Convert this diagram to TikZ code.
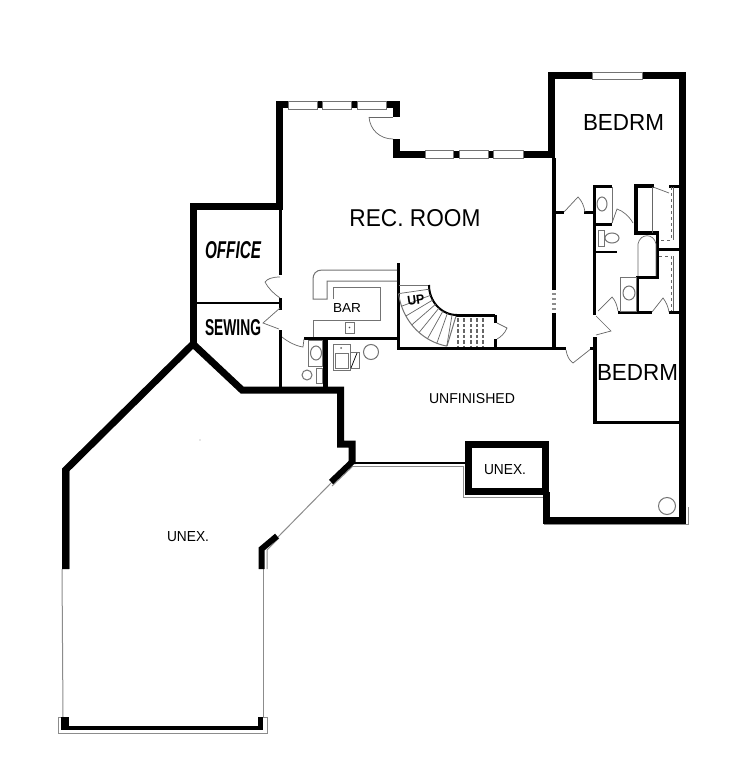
\documentclass[tikz,border=0pt]{standalone}
\usepackage{graphicx}
\usepackage{fontspec}
\setmainfont{Liberation Sans}
\tikzset{
 wall/.style={line width=#1,draw=black,line join=miter,line cap=butt},
 wall/.default=7pt,
 fine/.style={draw=black!45,line width=1pt},
 finer/.style={draw=black!60,line width=0.7pt},
 glass/.style={draw=black!55,fill=white,line width=0.9pt},
 fix/.style={draw=black!55,line width=1pt},
 lab/.style={inner sep=0pt,outer sep=0pt,anchor=center,text=black}
}
\newcommand{\fitlab}[3]{\resizebox{#1pt}{#2pt}{#3}}
\begin{document}
\begin{tikzpicture}[x=1pt,y=-1pt]
\useasboundingbox (0,0) rectangle (750,776);
\fill[white] (0,0) rectangle (750,776);

% grey outer lines
\draw[fine] (352,466) -- (463,466) -- (463,497) -- (544,497) -- (544,524) -- (688,524) -- (688,507);
\draw[fine] (353,466) -- (332,486);
\draw[fine] (278,537) -- (331,483);
\draw[fine] (267,569) -- (267,550) -- (279,538);
\draw[fine] (69.5,470) -- (69.5,569);
\draw[fine] (62,569) -- (63,717);
\draw[fine] (263.5,569) -- (263.5,717);
\draw[fine] (69,717) -- (58,717) -- (58,733) -- (267,733) -- (267,717) -- (258,717);

% main thick walls
\draw[wall] (279,210) -- (279,104.5) -- (396,104.5) -- (396,117);
\draw[wall] (396,139) -- (396,154) -- (552,154);
\draw[wall] (193.5,343) -- (193.5,206.5) -- (282,206.5);
\draw[wall] (193,344) -- (242,390) -- (340.5,390) -- (340.5,444) -- (352,444) -- (352,464);
\draw[wall] (551.5,158) -- (551.5,75.5) -- (682.5,75.5) -- (682.5,520) -- (546.5,520) -- (546.5,492);
\draw[wall=7pt] (468,491.5) -- (468,444.5) -- (545.5,444.5) -- (545.5,491.5) -- cycle;
% unex big
\draw[wall] (194,343) -- (65.5,470) -- (65.5,569);
\draw[wall=6pt] (352,462) -- (331,482);
\draw[wall=6pt] (261.5,569) -- (261.5,549) -- (277,536);
\draw[wall=8pt] (65,717) -- (65,726);
\draw[wall=5pt] (260.5,717) -- (260.5,728);
\draw[wall=4.5pt] (61,728) -- (263,728);
\draw[wall=2.5pt] (350,463) -- (466,463);

% windows
\foreach \a/\b in {288/317,322/351,357/386}{\draw[glass] (\a,101) rectangle (\b,109);}
\foreach \a/\b in {425/453,459/488,493/523}{\draw[glass] (\a,150) rectangle (\b,158);}
\draw[glass] (592,72) rectangle (642,79);

% door at rec room
\draw[finer] (369,117) -- (393,117);
\draw[finer] (369,117) .. controls (370,130) and (380,139) .. (393,139);

% interior walls
\draw[wall=3.5pt] (553.8,158) -- (553.8,290);
\draw[wall=3.5pt] (553.8,313) -- (553.8,349);
\foreach \y in {294,299,304,309}{\draw[line width=2pt,draw=black!45] (552,\y) -- (556,\y);}
\draw[wall=3pt] (398,263) -- (398,348.5) -- (566,348.5);
\draw[wall=3pt] (280.5,203) -- (280.5,275);
\draw[wall=3.5pt] (280.5,298) -- (280.5,310);
\draw[wall=2.5pt] (197,303) -- (280,303);
\draw[wall=2.5pt] (280.5,330) -- (280.5,388);
\draw[wall=3pt] (304,338) -- (398,338);
\draw[wall=4.5pt] (325.5,339) -- (325.5,388);

% office, sewing, wc doors
\draw[finer] (280,277) .. controls (272,277) and (267,279) .. (265,282) .. controls (268,288) and (274,294) .. (280,298);
\draw[finer] (280,308) -- (263,323) -- (279,329);
\draw[finer] (282,337) .. controls (288,342) and (296,346) .. (303,347) -- (304,339);

% bar
\draw[fix] (397,270) -- (322,270) .. controls (316,270) and (313,274) .. (313,279) -- (313,299) -- (327,299) -- (327,281) -- (397,281);
\draw[fix] (333,299) -- (333,287) -- (380,287) -- (380,320) -- (313,320) -- (313,337);
\draw[fix] (345,322) rectangle (354,333);
\fill[black!70] (349.5,327.5) circle (0.8pt);

% lower-left WC
\draw[fix] (308,340) rectangle (322,366);
\draw[fix] (316,353) ellipse (5.5pt and 7pt);
\draw[fix] (307,375) circle (5pt);
\draw[fix] (316,368) rectangle (322,383);

% laundry
\draw[fix] (333,344) rectangle (350,370);
\draw[fix] (335,353) rectangle (348,368);
\fill[black!60] (341,348) circle (1pt);
\draw[fix] (350,352) rectangle (359,368);
\draw[draw=black,line width=0.7pt] (351,368) -- (357,353);
\draw[fix] (371,352) circle (7.5pt);

% stairs
\draw[fix] (399,285) -- (430,285);
\draw[wall=2pt] plot[domain=90:180,samples=30] ({457+28*cos(\x)},{285+30*sin(\x)});
\draw[wall=2.5pt] (456,315.5) -- (495,315.5);
\draw[fix] plot[domain=100:172,samples=30] ({457+59*cos(\x)},{285+62*sin(\x)});
\draw[fix] (447,346) -- (456,316);
\foreach \a in {100,110,120,130,140,150,160,172}{
  \draw[finer] ({457+28*cos(\a)},{285+30*sin(\a)}) -- ({457+59*cos(\a)},{285+62*sin(\a)});}
\foreach \x in {458,464,471,477,483}{\draw[draw=black!60,line width=1.6pt,dash pattern=on 3.5pt off 2pt] (\x,318) -- (\x,346);}
\draw[wall=3pt] (495.5,315) -- (495.5,323);
\draw[wall=3pt] (495.5,339) -- (495.5,347);
\draw[finer] (497,323) -- (507,328) .. controls (505,333) and (501,337) .. (497,339);

% right bath wing
\draw[wall=3pt] (594.5,185) -- (594.5,315);
\draw[wall=3pt] (593,186) -- (612,186);
\draw[wall=3pt] (593,224) -- (612,224);
\draw[fix] (612,187) -- (612,223);
\draw[fix] (602,204) ellipse (5pt and 7pt);
\draw[fix] (598,230) rectangle (604,246);
\draw[fix] (612,238) ellipse (7pt and 5pt);
\draw[wall=2.5pt] (596,252) -- (617,252);
\draw[wall=3pt] (556,212.5) -- (564,212.5);
\draw[wall=3pt] (584,212.5) -- (593,212.5);
\draw[finer] (564,212) -- (578,197) .. controls (582,201) and (584,206) .. (585,212);
\draw[finer] (612,223) -- (617,209) .. controls (623,211) and (629,216) .. (633,223);
% closets + tub
\draw[wall=3.5pt] (654,186) -- (636,186) -- (636,233) -- (657.5,233) -- (657.5,277.5) -- (636,277.5);
\draw[wall=3pt] (637,277) -- (637,312);
\draw[wall=3pt] (618,312) -- (652,312);
\draw[wall=3pt] (669,312) -- (680,312);
\draw[wall=3pt] (669,186) -- (680,186);
\draw[wall=3pt] (658,249.5) -- (680,249.5);
\draw[finer] (653,187) -- (669,193);
\draw[finer] (652,187) -- (652,233);
\draw[finer,dashed] (671,187) -- (671,240) -- (659,240);
\draw[finer] (673,187) -- (673,240);
\draw[finer,dashed] (659,256) -- (671,256) -- (671,311);
\draw[finer] (673,256) -- (673,311);
\draw[finer] (638,276) -- (638,244) .. controls (640,233) and (654,233) .. (656,244) -- (656,276);
% lower sink + doors
\draw[fix] (620,277) rectangle (636,311);
\draw[fix] (629,293) ellipse (6pt and 7pt);
\draw[finer] (598,311) -- (612,297) .. controls (615,300) and (617,305) .. (618,311);
\draw[finer] (652,312) -- (663,298) .. controls (666,302) and (668,306) .. (669,312);
\draw[finer] (596,316) -- (611,331) -- (596,335);
\draw[wall=3.5pt] (595,337) -- (595,423);
\draw[wall=3pt] (593,422) -- (680,422);
\draw[finer] (566,350) .. controls (567,356) and (569,360) .. (573,363) -- (592,348);
\draw[wall=3pt] (590,348.5) -- (596,348.5);

% water heater
\draw[fix] (667,506) circle (8.5pt);

% stray dot
\fill[black!40] (200,440) circle (0.6pt);

% labels
\node[lab] (bed1) at (623.5,122) {\fitlab{81}{16}{BEDRM}};
\node[lab] (rec) at (415,218.5) {\fitlab{131}{17}{REC. ROOM}};
\node[lab] (office) at (233,250.5) {\fitlab{56}{17}{\bfseries\itshape OFFICE}};
\node[lab] (sewing) at (233,328) {\fitlab{56}{16}{\bfseries SEWING}};
\node[lab] (bar) at (347,307.5) {\fitlab{28}{9}{BAR}};
\node[lab] (bed2) at (637.5,372) {\fitlab{81}{16}{BEDRM}};
\node[lab] (unf) at (472,398.5) {\fitlab{86}{10}{UNFINISHED}};
\node[lab] (unexs) at (505,470) {\fitlab{42}{10}{UNEX.}};
\node[lab] (unexb) at (188,537) {\fitlab{42}{10}{UNEX.}};
\node[lab,rotate=8] (up) at (416,300) {\fitlab{17}{9}{\bfseries UP}};
\end{tikzpicture}
\end{document}
